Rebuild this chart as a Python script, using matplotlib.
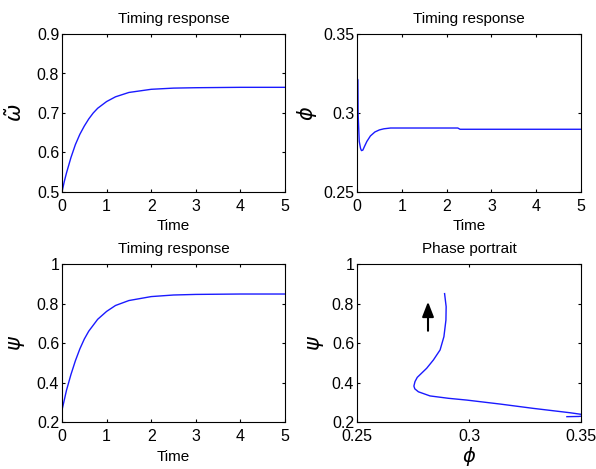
import matplotlib
matplotlib.use("Agg")
import matplotlib.pyplot as plt

plt.rcParams['font.family'] = ['Liberation Sans', 'DejaVu Sans']
plt.rcParams['mathtext.fontset'] = 'dejavusans'

# time response data
t_omega = [0, 0.05, 0.1, 0.2, 0.3, 0.4, 0.5, 0.6, 0.7, 0.8, 1.0, 1.2, 1.5, 2.0, 2.5, 3.0, 4.0, 5.0]
omega = [0.50, 0.526, 0.548, 0.587, 0.620, 0.646, 0.667, 0.685, 0.700, 0.712, 0.729, 0.741,
         0.752, 0.760, 0.763, 0.764, 0.765, 0.765]

t_phi = [0, 0.02, 0.025, 0.03, 0.04, 0.05, 0.08, 0.1, 0.13, 0.17, 0.22, 0.3, 0.4, 0.5, 0.6, 0.75,
         1.0, 2.25, 2.3, 5.0]
phi = [0.322, 0.321, 0.300, 0.296, 0.289, 0.282, 0.2775, 0.2762, 0.2765, 0.279, 0.282, 0.2855,
       0.288, 0.2893, 0.2900, 0.2905, 0.2905, 0.2905, 0.2897, 0.2897]

t_psi = [0, 0.05, 0.1, 0.2, 0.3, 0.4, 0.5, 0.6, 0.8, 1.0, 1.2, 1.5, 2.0, 2.5, 3.0, 4.0, 5.0]
psi = [0.26, 0.31, 0.36, 0.44, 0.51, 0.57, 0.62, 0.66, 0.72, 0.76, 0.79, 0.815, 0.835,
       0.843, 0.846, 0.848, 0.848]

# phase portrait data
pp_phi = [0.3437, 0.3490, 0.3525, 0.3500, 0.3450, 0.3287, 0.3138, 0.2990, 0.2908, 0.2826,
          0.2774, 0.2758, 0.2754, 0.2759, 0.2769, 0.2811, 0.2841, 0.2871, 0.2888, 0.2897,
          0.2898, 0.2891]
pp_psi = [0.227, 0.228, 0.233, 0.239, 0.247, 0.269, 0.291, 0.311, 0.320, 0.332,
          0.353, 0.368, 0.382, 0.405, 0.426, 0.472, 0.514, 0.565, 0.632, 0.716,
          0.784, 0.850]

arrow_phi = 0.2817
arrow_psi = [0.662, 0.809]

fig = plt.figure(figsize=(5.96, 4.69), dpi=100)
W, H = 596, 469

def add_ax(l, r, t, b):
    return fig.add_axes([l / W, (H - b) / H, (r - l) / W, (b - t) / H])

ax1 = add_ax(62, 285, 34, 192)
ax2 = add_ax(357, 581, 34, 192)
ax3 = add_ax(62, 285, 264, 422)
ax4 = add_ax(357, 581, 264, 422)

fs = 11.5
tfs = 11
gfs = 15
for ax in (ax1, ax2, ax3, ax4):
    ax.tick_params(direction='in', length=2.5, width=0.8, top=True, right=True,
                   labelsize=fs, pad=2)
    ax.tick_params(axis='x', pad=5)
    for s in ax.spines.values():
        s.set_linewidth(0.8)

lc = '#1a1aff'
time_ticks = [0, 1, 2, 3, 4, 5]

ax1.plot(t_omega, omega, color=lc, lw=1)
ax1.set_xlim(0, 5); ax1.set_ylim(0.5, 0.9)
ax1.set_xticks(time_ticks)
ax1.set_yticks([0.5, 0.6, 0.7, 0.8, 0.9])
ax1.set_title('Timing response', fontsize=tfs, pad=8)
ax1.set_xlabel('Time', fontsize=11, labelpad=4)
ax1.set_ylabel(r'$\tilde{\omega}$', fontsize=gfs, labelpad=8)

ax2.plot(t_phi, phi, color=lc, lw=1)
ax2.set_xlim(0, 5); ax2.set_ylim(0.25, 0.35)
ax2.set_xticks(time_ticks)
ax2.set_yticks([0.25, 0.3, 0.35])
ax2.set_yticklabels(['0.25', '0.3', '0.35'])
ax2.set_title('Timing response', fontsize=tfs, pad=8)
ax2.set_xlabel('Time', fontsize=11, labelpad=4)
ax2.set_ylabel(r'$\phi$', fontsize=gfs, labelpad=3)

ax3.plot(t_psi, psi, color=lc, lw=1)
ax3.set_xlim(0, 5); ax3.set_ylim(0.2, 1.0)
ax3.set_xticks(time_ticks)
ax3.set_yticks([0.2, 0.4, 0.6, 0.8, 1.0])
ax3.set_yticklabels(['0.2', '0.4', '0.6', '0.8', '1'])
ax3.set_title('Timing response', fontsize=tfs, pad=8)
ax3.set_xlabel('Time', fontsize=11, labelpad=4)
ax3.set_ylabel(r'$\psi$', fontsize=gfs, labelpad=7)

ax4.plot(pp_phi, pp_psi, color=lc, lw=1, clip_on=True)
ax4.set_xlim(0.25, 0.35); ax4.set_ylim(0.2, 1.0)
ax4.set_xticks([0.25, 0.3, 0.35])
ax4.set_xticklabels(['0.25', '0.3', '0.35'])
ax4.set_yticks([0.2, 0.4, 0.6, 0.8, 1.0])
ax4.set_yticklabels(['0.2', '0.4', '0.6', '0.8', '1'])
ax4.set_title('Phase portrait', fontsize=tfs, pad=8)
ax4.set_xlabel(r'$\phi$', fontsize=14, labelpad=1)
ax4.set_ylabel(r'$\psi$', fontsize=gfs, labelpad=4)
ax4.annotate('', xy=(arrow_phi, arrow_psi[1]), xytext=(arrow_phi, arrow_psi[0]),
             arrowprops=dict(arrowstyle='-|>,head_length=0.9,head_width=0.35',
                             color='black', lw=1.5, shrinkA=0, shrinkB=0))

fig.savefig('out.png', dpi=100)
